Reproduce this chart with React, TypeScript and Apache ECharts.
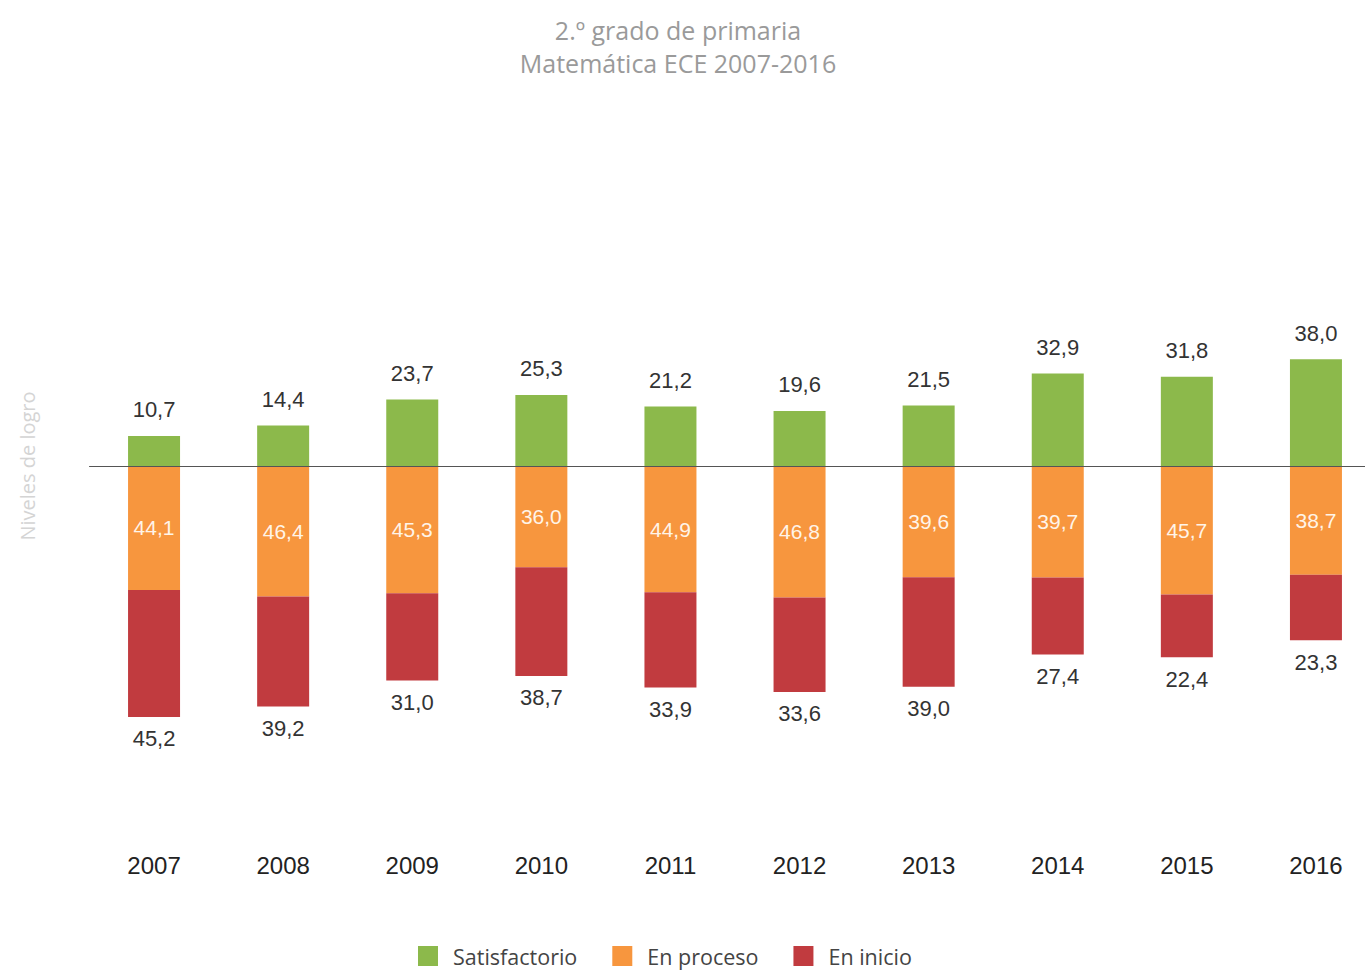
import React, { useEffect, useRef } from "react";
import * as echarts from "echarts";

const years = ["2007", "2008", "2009", "2010", "2011", "2012", "2013", "2014", "2015", "2016"];
const satisfactorio = [10.7, 14.4, 23.7, 25.3, 21.2, 19.6, 21.5, 32.9, 31.8, 38.0];
const enProceso = [44.1, 46.4, 45.3, 36.0, 44.9, 46.8, 39.6, 39.7, 45.7, 38.7];
const enInicio = [45.2, 39.2, 31.0, 38.7, 33.9, 33.6, 39.0, 27.4, 22.4, 23.3];

const fmt = (p: any) => Math.abs(Number(p.value)).toFixed(1).replace(".", ",");

export default function App() {
  const ref = useRef<HTMLDivElement>(null);
  useEffect(() => {
    if (!ref.current) return;
    const chart = echarts.init(ref.current, null, { renderer: "svg" });
    const numFont = "'Liberation Sans', Arial, sans-serif";
    const txtFont = "'Open Sans', 'DejaVu Sans', sans-serif";
    chart.setOption({
      animation: false,
      backgroundColor: "#ffffff",
      title: {
        text: "2.º grado de primaria\nMatemática ECE 2007-2016",
        left: 673,
        top: 8,
        textAlign: "center",
        textStyle: {
          fontFamily: txtFont,
          fontWeight: "normal",
          fontSize: 25,
          lineHeight: 33,
          color: "#9a9a9a",
        },
      },
      graphic: [
        {
          type: "text",
          x: 27,
          y: 466,
          rotation: Math.PI / 2,
          style: {
            text: "Niveles de logro",
            fill: "#d4d4d4",
            fontSize: 20,
            fontFamily: txtFont,
            textAlign: "center",
            textVerticalAlign: "middle",
          },
        },
      ],
      legend: {
        left: 413,
        top: 940,
        itemWidth: 20,
        itemHeight: 20,
        itemGap: 35,
        icon: "rect",
        textStyle: {
          fontFamily: txtFont,
          fontSize: 21.5,
          color: "#444",
          padding: [0, 0, 0, 10],
        },
        data: ["Satisfactorio", "En proceso", "En inicio"],
      },
      grid: { left: 89.5, top: 185, width: 1291, height: 646.3, containLabel: false },
      xAxis: [
        {
          type: "category",
          data: years,
          axisLine: { show: false, onZero: false },
          axisTick: { show: false },
          axisLabel: { margin: 22, fontSize: 24, color: "#222", fontFamily: numFont },
        },
        {
          type: "category",
          data: years,
          z: 10,
          axisLine: { show: true, onZero: true, lineStyle: { color: "#555", width: 1 } },
          axisTick: { show: false },
          axisLabel: { show: false },
        },
      ],
      yAxis: {
        type: "value",
        min: -130,
        max: 100,
        axisLine: { show: false },
        axisTick: { show: false },
        axisLabel: { show: false },
        splitLine: { show: false },
      },
      series: [
        {
          name: "Satisfactorio",
          type: "bar",
          stack: "t",
          barWidth: 52,
          data: satisfactorio,
          itemStyle: { color: "#8cb94b" },
          label: {
            show: true,
            position: "top",
            distance: 15,
            formatter: fmt,
            fontSize: 22,
            color: "#333",
            fontFamily: numFont,
          },
        },
        {
          name: "En proceso",
          type: "bar",
          stack: "t",
          barWidth: 52,
          data: enProceso.map((v) => -v),
          itemStyle: { color: "#f7963e" },
          label: {
            show: true,
            position: "inside",
            formatter: fmt,
            fontSize: 21,
            color: "#fff4e8",
            fontFamily: numFont,
          },
        },
        {
          name: "En inicio",
          type: "bar",
          stack: "t",
          barWidth: 52,
          data: enInicio.map((v) => -v),
          itemStyle: { color: "#c13b3f" },
          label: {
            show: true,
            position: "bottom",
            distance: 11,
            formatter: fmt,
            fontSize: 22,
            color: "#333",
            fontFamily: numFont,
          },
        },
      ],
    });
    return () => chart.dispose();
  }, []);
  return (
    <div style={{ position: "absolute", left: 0, top: 0, width: 1365, height: 972, overflow: "hidden" }}>
      <div ref={ref} style={{ width: 1381, height: 972 }} />
    </div>
  );
}
